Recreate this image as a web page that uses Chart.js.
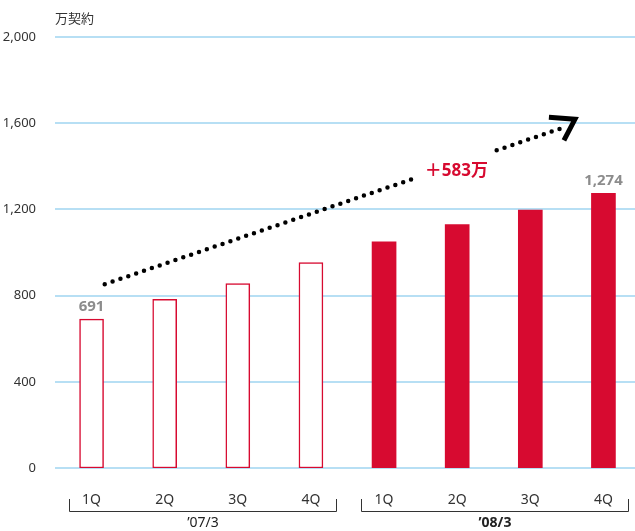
<!DOCTYPE html>
<html lang="ja">
<head>
<meta charset="UTF-8">
<title>契約数推移</title>
<script src="https://cdn.jsdelivr.net/npm/chart.js"></script>
<style>
  body { margin: 0; overflow: hidden; background: #fff; }
  #wrap { width: 635px; height: 531px; overflow: hidden; }
</style>
</head>
<body>
<div id="wrap"><canvas id="chart" width="640" height="531"></canvas></div>
<script>
// データ
const quarters = ['1Q', '2Q', '3Q', '4Q', '1Q', '2Q', '3Q', '4Q'];
const contracts = [691, 783, 856, 953, 1049, 1130, 1197, 1274];
const yMax = 2000;
const yStep = 400;
const groups = ['’07/3', '’08/3'];
const groupSpans = [[0, 3], [4, 7]];
const shownValues = [0, 7];            // 数値ラベルを表示するバー
const unitLabel = '万契約';
const growthLabel = '＋583万';
// 点線矢印 (カテゴリ位置, 値)
const trendA = [[0.18, 853], [4.38, 1340]];
const trendB = [[5.54, 1474], [6.42, 1576]];
const arrowTip = [6.61, 1618];
const growthPos = [4.99, 1377];

const RED = '#d70a30';
const GRID = '#9fd5f0';
const FONT = '"Noto Sans", "Noto Sans CJK JP", sans-serif';

const overlay = {
  id: 'overlay',
  beforeDatasetsDraw(chart) {
    // 目盛線
    const ctx = chart.ctx, y = chart.scales.y, area = chart.chartArea;
    ctx.save();
    ctx.strokeStyle = GRID;
    ctx.lineWidth = 1.6;
    y.ticks.forEach(t => {
      const py = Math.round(y.getPixelForValue(t.value));
      ctx.beginPath();
      ctx.moveTo(area.left, py);
      ctx.lineTo(area.right, py);
      ctx.stroke();
    });
    ctx.restore();
  },
  afterDatasetsDraw(chart) {
    const ctx = chart.ctx;
    const x = chart.scales.x, y = chart.scales.y;
    const px = p => [x.getPixelForValue(p[0]), y.getPixelForValue(p[1])];
    ctx.save();

    // 単位
    ctx.fillStyle = '#333';
    ctx.font = '13px ' + FONT;
    ctx.textAlign = 'left';
    ctx.textBaseline = 'middle';
    ctx.fillText(unitLabel, 55, 19);

    // 数値ラベル
    ctx.fillStyle = '#8c8c8c';
    ctx.font = 'bold 15px ' + FONT;
    ctx.textAlign = 'center';
    ctx.textBaseline = 'bottom';
    shownValues.forEach(i => {
      const v = contracts[i];
      ctx.fillText(v.toLocaleString('en-US'), x.getPixelForValue(i), y.getPixelForValue(v) - 5);
    });

    // 点線
    ctx.strokeStyle = '#000';
    ctx.lineWidth = 4.5;
    ctx.lineCap = 'round';
    ctx.setLineDash([0, 8.3]);
    [trendA, trendB].forEach(seg => {
      const a = px(seg[0]), b = px(seg[1]);
      ctx.beginPath();
      ctx.moveTo(a[0], a[1]);
      ctx.lineTo(b[0], b[1]);
      ctx.stroke();
    });
    ctx.setLineDash([]);

    // 矢印の先
    const t = px(arrowTip);
    ctx.lineWidth = 5;
    ctx.lineCap = 'butt';
    ctx.lineJoin = 'miter';
    ctx.beginPath();
    ctx.moveTo(t[0] - 26, t[1] - 2);
    ctx.lineTo(t[0], t[1]);
    ctx.lineTo(t[0] - 11, t[1] + 21);
    ctx.stroke();

    // 増加量
    const g = px(growthPos);
    ctx.fillStyle = RED;
    ctx.font = 'bold 17px ' + FONT;
    ctx.textAlign = 'center';
    ctx.textBaseline = 'middle';
    ctx.fillText(growthLabel, g[0], g[1]);

    // 年度ブラケット
    ctx.strokeStyle = '#333';
    ctx.lineWidth = 1;
    ctx.fillStyle = '#222';
    groupSpans.forEach((span, k) => {
      const l = Math.round(x.getPixelForValue(span[0]) - 23) + 0.5;
      const r = Math.round(x.getPixelForValue(span[1]) + 25) + 0.5;
      ctx.beginPath();
      ctx.moveTo(l, 499);
      ctx.lineTo(l, 511.5);
      ctx.lineTo(r, 511.5);
      ctx.lineTo(r, 499);
      ctx.stroke();
      ctx.font = (k === 1 ? 'bold ' : '') + '14px ' + FONT;
      ctx.fillText(groups[k], (l + r) / 2, 523);
    });
    ctx.restore();
  }
};

new Chart(document.getElementById('chart'), {
  type: 'bar',
  data: {
    labels: quarters,
    datasets: [{
      data: contracts,
      backgroundColor: contracts.map((v, i) => i < 4 ? '#ffffff' : RED),
      borderColor: RED,
      borderWidth: contracts.map((v, i) => i < 4 ? 1.5 : 0),
      borderSkipped: false,
      barThickness: 24
    }]
  },
  options: {
    responsive: false,
    animation: false,
    layout: { padding: { top: 37, right: 0, left: 0, bottom: 0 } },
    plugins: { legend: { display: false }, tooltip: { enabled: false } },
    scales: {
      x: {
        grid: { display: false },
        border: { display: false },
        ticks: { color: '#333', font: { family: FONT, size: 14 }, padding: 16 },
        afterFit: s => { s.height = 63; }
      },
      y: {
        min: 0, max: yMax,
        grid: { display: false },
        border: { display: false },
        ticks: {
          stepSize: yStep,
          color: '#333', font: { family: FONT, size: 13 }, padding: 11,
          callback: v => v.toLocaleString('en-US')
        },
        afterFit: s => { s.width = 55; }
      }
    }
  },
  plugins: [overlay]
});
</script>
</body>
</html>
